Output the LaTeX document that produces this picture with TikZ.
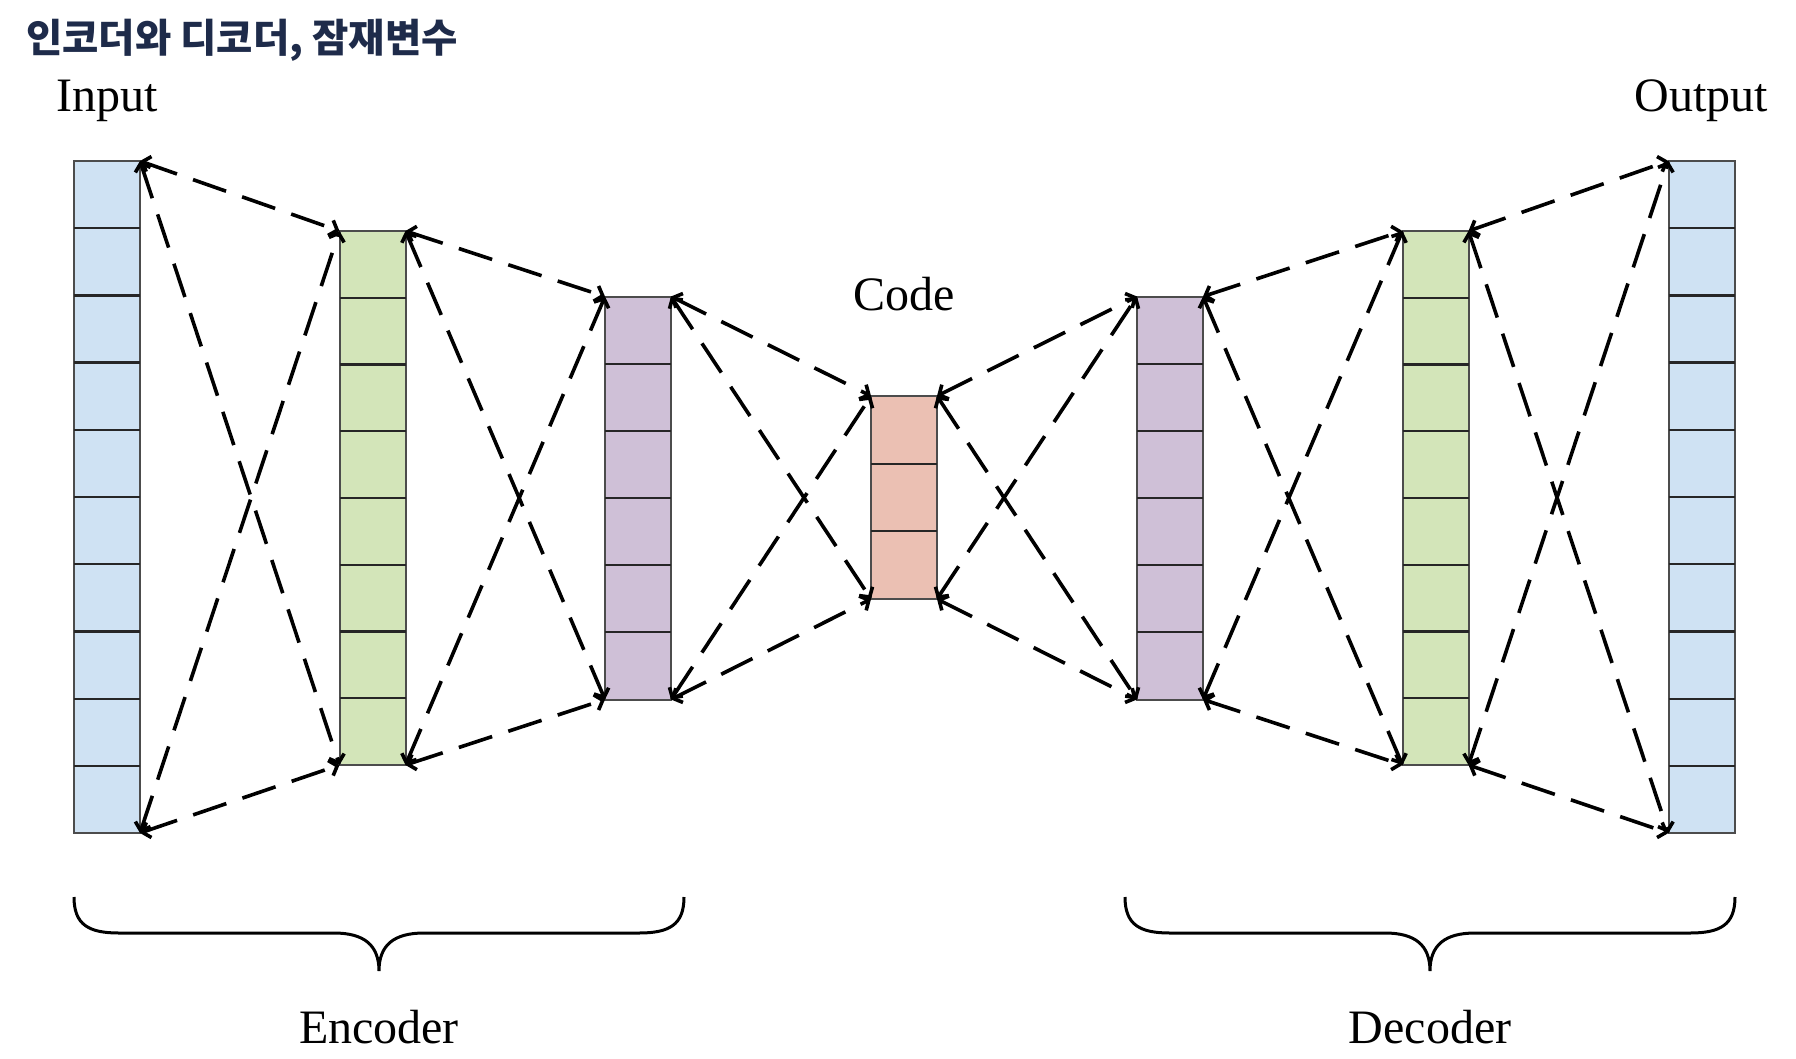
\documentclass[tikz,border=0pt]{standalone}
\usepackage{fontspec}
\setmainfont{Liberation Serif}
\newfontfamily\krfont{Noto Sans CJK KR}
\usetikzlibrary{arrows.meta,calc}
\definecolor{cblue}{HTML}{CFE2F3}
\definecolor{cgreen}{HTML}{D3E5B9}
\definecolor{cpurple}{HTML}{CFC0D7}
\definecolor{cpink}{HTML}{EBC0B3}
\definecolor{titlecol}{HTML}{1E2B4A}
\begin{document}
\begin{tikzpicture}[x=1pt,y=-1pt,
  layer/.style={draw=black!70, line width=2pt, minimum width=66pt, inner sep=0pt, outer sep=0pt},
  divider/.style={draw=black!85, line width=2.2pt},
  link/.style={draw=black, line width=3.6pt, dash pattern=on 35pt off 17pt,
    {Straight Barb[length=7pt,width=16pt]}-{Straight Barb[length=7pt,width=16pt]}},
  lbl/.style={font=\fontsize{48}{50}\selectfont, anchor=base, inner sep=0pt},
  brace/.style={draw=black, line width=3pt}]
\useasboundingbox (0,0) rectangle (1796,1058);
\node[anchor=base west, inner sep=0pt, text=titlecol, font=\krfont\bfseries\fontsize{39.5}{42}\selectfont] (title) at (26,52) {인코더와 디코더, 잠재변수};

\node[layer, fill=cblue, minimum height=672pt] (in) at (107,497) {};
\node[layer, fill=cgreen, minimum height=534pt] (eg) at (372.5,498) {};
\node[layer, fill=cpurple, minimum height=403pt] (ep) at (638,498) {};
\node[layer, fill=cpink, minimum height=203pt] (code) at (904,497.5) {};
\node[layer, fill=cpurple, minimum height=403pt] (dp) at (1170,498) {};
\node[layer, fill=cgreen, minimum height=534pt] (dg) at (1435.5,498) {};
\node[layer, fill=cblue, minimum height=672pt] (out) at (1701.5,497) {};

\foreach \nm/\k in {in/10, eg/8, ep/6, code/3, dp/6, dg/8, out/10} {
  \pgfmathtruncatemacro\mm{\k-1}
  \foreach \i in {1,...,\mm}
    \draw[divider] ($(\nm.north west)!\i/\k!(\nm.south west)$) -- ($(\nm.north east)!\i/\k!(\nm.south east)$);
}

\foreach \a/\b in {in/eg, eg/ep, ep/code, code/dp, dp/dg, dg/out} {
  \draw[link] (\a.north east) -- (\b.north west);
  \draw[link] (\a.north east) -- (\b.south west);
  \draw[link] (\a.south east) -- (\b.north west);
  \draw[link] (\a.south east) -- (\b.south west);
}

\node[lbl] (inlbl) at (107,111) {Input};
\node[lbl] (outlbl) at (1701.5,111) {Output};
\node[lbl] (codelbl) at (904,310) {Code};
\node[lbl] (enclbl) at (379,1043) {Encoder};
\node[lbl] (declbl) at (1430,1043) {Decoder};

\draw[brace] (74,897) .. controls (74,925) and (89,933) .. (119,933) -- (334,933)
  .. controls (364,933) and (379,945) .. (379,971)
  .. controls (379,945) and (394,933) .. (424,933) -- (639,933)
  .. controls (669,933) and (684,925) .. (684,897);
\draw[brace] (1125,897) .. controls (1125,925) and (1140,933) .. (1170,933) -- (1385,933)
  .. controls (1415,933) and (1430,945) .. (1430,971)
  .. controls (1430,945) and (1445,933) .. (1475,933) -- (1690,933)
  .. controls (1720,933) and (1735,925) .. (1735,897);
\end{tikzpicture}
\end{document}
